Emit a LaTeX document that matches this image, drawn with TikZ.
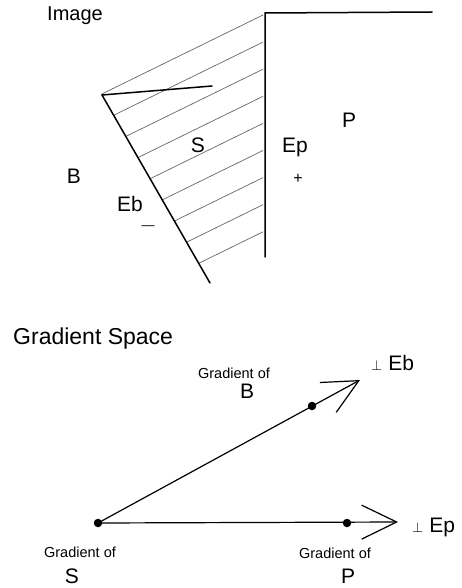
\documentclass[tikz,border=0pt]{standalone}
\usepackage{fontspec}
\setmainfont{Liberation Sans}
\usetikzlibrary{arrows.meta,positioning}

\begin{document}
\begin{tikzpicture}[
  x=1pt, y=-1pt,
  edge/.style={line width=1.5pt, line cap=round},
  hatch/.style={line width=0.7pt, black!60},
  vec/.style={line width=1.2pt, -{Straight Barb[length=35pt,width=34pt]}},
  dot/.style={circle, fill, inner sep=0pt, minimum size=8.5pt},
  heading/.style={anchor=base west, inner sep=0pt},
  lbl/.style={anchor=base, inner sep=0pt, font=\fontsize{21}{25}\selectfont},
  gradtext/.style={anchor=base, inner sep=0pt, font=\fontsize{14.5}{17}\selectfont},
  perplbl/.style={anchor=base west, inner sep=0pt, font=\fontsize{21}{25}\selectfont}
]
  \useasboundingbox (0,0) rectangle (461,588);

  % image part
  \node[heading, font=\fontsize{20}{24}\selectfont] (image) at (47,21) {Image};

  \coordinate (apex) at (102,95);
  \coordinate (foot) at (210,283);
  \coordinate (corner) at (265,13);
  \coordinate (vbot) at (265,257);
  \coordinate (rend) at (432,12);
  \coordinate (tick) at (212,86);

  \foreach \k in {0,...,8} {
    \pgfmathsetmacro\ye{15+27.1*\k}
    \coordinate (he) at (263,\ye);
    \coordinate (hf) at (63,\ye+98);
    \draw[hatch] (intersection of apex--foot and he--hf) -- (he);
  }

  \draw[edge] (apex) -- (foot);
  \draw[edge] (apex) -- (tick);
  \draw[edge] (vbot) -- (corner) -- (rend);

  \node[lbl] (regS) at (198,153) {S};
  \node[lbl] (regEp) at (295,153) {Ep};
  \node[anchor=center, font=\fontsize{16}{16}\selectfont] (plus) at (298,179) {+};
  \node[lbl] (regP) at (349,128) {P};
  \node[lbl] (regB) at (74,183) {B};
  \node[lbl] (regEb) at (130,211) {Eb};
  \node[anchor=center, font=\fontsize{13}{13}\selectfont] (minus) at (148,228) {---};

  % gradient space
  \node[heading, font=\fontsize{23}{27}\selectfont] (gspace) at (13,344) {Gradient Space};

  \node[dot] (gS) at (98,523) {};
  \node[dot] (gP) at (347,523) {};
  \node[dot] (gB) at (312,406) {};
  \coordinate (tipEp) at (398,522);
  \coordinate (tipEb) at (360,380);

  \draw[vec] (gS.center) -- (tipEp);
  \draw[vec] (gS.center) -- (tipEb);

  \node[perplbl] (perpEb) at (371,370) {{\fontsize{14}{14}\selectfont$\perp$}\hspace{6pt}Eb};
  \node[perplbl] (perpEp) at (412,532) {{\fontsize{14}{14}\selectfont$\perp$}\hspace{6pt}Ep};

  \node[gradtext] (ofB) at (234,378) {Gradient of};
  \node[lbl] (txtB) at (247,398) {B};
  \node[gradtext] (ofS) at (80,557) {Gradient of};
  \node[lbl] (txtS) at (72,583) {S};
  \node[gradtext] (ofP) at (335,558) {Gradient of};
  \node[lbl] (txtP) at (348,583) {P};
\end{tikzpicture}
\end{document}
